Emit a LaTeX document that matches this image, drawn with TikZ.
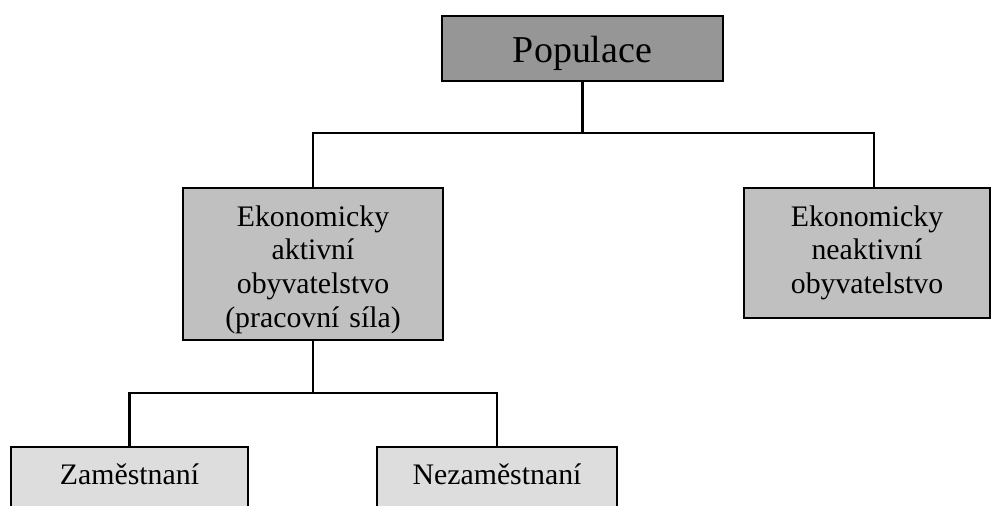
\documentclass[tikz,border=0pt]{standalone}
\usepackage{fontspec}
\setmainfont{Liberation Serif}
\usepackage{tikz}
\usetikzlibrary{positioning,calc}

\definecolor{popgray}{RGB}{150,150,150}
\definecolor{grpgray}{RGB}{192,192,192}
\definecolor{subgray}{RGB}{221,221,221}

\begin{document}
\begin{tikzpicture}[
    line width=1.5pt,
    popbox/.style={rectangle, draw, fill=popgray, anchor=north, inner ysep=0pt, minimum width=7.025cm, text height=1.15cm, text depth=0.475cm, font=\fontsize{27}{32}\selectfont},
    grpbox/.style={rectangle, draw, fill=grpgray, anchor=north, inner ysep=0pt, text width=5.8cm, align=center, text height=0.95cm, font=\fontsize{21.2}{24}\selectfont},
    subbox/.style={rectangle, draw, fill=subgray, anchor=north, inner ysep=0pt, text height=0.925cm, text depth=1.425cm, font=\fontsize{21.2}{24}\selectfont}
]

% Frame
\clip (0,0) rectangle (24.775,12.65);

% Boxes
\node[popbox] (pop) at (14.5625,12.275) {Populace};
\node[grpbox, minimum width=6.5cm, text depth=2.85cm] (aktiv) at (7.825,7.975) {Ekonomicky\\aktivní\\obyvatelstvo\\(pracovní síla)};
\node[grpbox, minimum width=6.15cm, text depth=2.3cm] (neakt) at (21.675,7.975) {Ekonomicky\\neaktivní\\obyvatelstvo};
\node[subbox, minimum width=5.925cm] (zam) at (3.2375,1.5) {Zaměstnaní};
\node[subbox, minimum width=6cm] (nezam) at (12.425,1.5) {Nezaměstnaní};

% Branch points
\coordinate (hub) at (14.5625,9.325);
\coordinate (hubb) at (7.825,2.825);

% Connectors
\draw (pop.south) -- (hub);
\draw (aktiv.north) |- (hub) -| ([xshift=0.175cm]neakt.north);
\draw (aktiv.south) -- (hubb);
\draw (zam.north) |- (hubb) -| (nezam.north);

\end{tikzpicture}
\end{document}
